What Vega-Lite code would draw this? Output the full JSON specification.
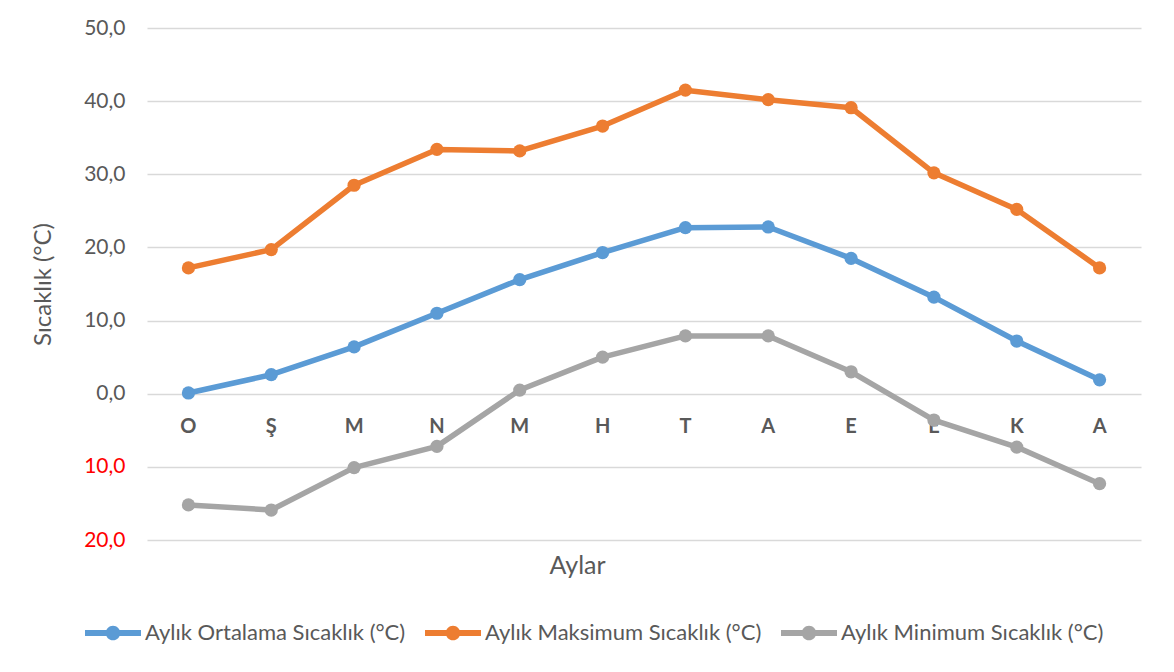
{
  "$schema": "https://vega.github.io/schema/vega-lite/v6.json",
  "width": 994,
  "height": 512,
  "autosize": {"type": "none"},
  "padding": {"left": 147, "top": 28, "right": 33, "bottom": 132},
  "background": "white",
  "config": {
    "font": "Lato",
    "view": {"stroke": null},
    "axis": {"labelFont": "Lato", "titleFont": "Lato", "labelColor": "#595959", "titleColor": "#595959", "titleFontWeight": "normal"}
  },
  "datasets": {
    "sicaklik": [
      {"sira": 1, "ay": "O", "seri": "Aylık Ortalama Sıcaklık (°C)", "deger": 0.1},
      {"sira": 2, "ay": "Ş", "seri": "Aylık Ortalama Sıcaklık (°C)", "deger": 2.6},
      {"sira": 3, "ay": "M", "seri": "Aylık Ortalama Sıcaklık (°C)", "deger": 6.4},
      {"sira": 4, "ay": "N", "seri": "Aylık Ortalama Sıcaklık (°C)", "deger": 11.0},
      {"sira": 5, "ay": "M", "seri": "Aylık Ortalama Sıcaklık (°C)", "deger": 15.6},
      {"sira": 6, "ay": "H", "seri": "Aylık Ortalama Sıcaklık (°C)", "deger": 19.3},
      {"sira": 7, "ay": "T", "seri": "Aylık Ortalama Sıcaklık (°C)", "deger": 22.7},
      {"sira": 8, "ay": "A", "seri": "Aylık Ortalama Sıcaklık (°C)", "deger": 22.8},
      {"sira": 9, "ay": "E", "seri": "Aylık Ortalama Sıcaklık (°C)", "deger": 18.5},
      {"sira": 10, "ay": "E", "seri": "Aylık Ortalama Sıcaklık (°C)", "deger": 13.2},
      {"sira": 11, "ay": "K", "seri": "Aylık Ortalama Sıcaklık (°C)", "deger": 7.2},
      {"sira": 12, "ay": "A", "seri": "Aylık Ortalama Sıcaklık (°C)", "deger": 1.9},
      {"sira": 1, "ay": "O", "seri": "Aylık Maksimum Sıcaklık (°C)", "deger": 17.2},
      {"sira": 2, "ay": "Ş", "seri": "Aylık Maksimum Sıcaklık (°C)", "deger": 19.7},
      {"sira": 3, "ay": "M", "seri": "Aylık Maksimum Sıcaklık (°C)", "deger": 28.5},
      {"sira": 4, "ay": "N", "seri": "Aylık Maksimum Sıcaklık (°C)", "deger": 33.4},
      {"sira": 5, "ay": "M", "seri": "Aylık Maksimum Sıcaklık (°C)", "deger": 33.2},
      {"sira": 6, "ay": "H", "seri": "Aylık Maksimum Sıcaklık (°C)", "deger": 36.6},
      {"sira": 7, "ay": "T", "seri": "Aylık Maksimum Sıcaklık (°C)", "deger": 41.5},
      {"sira": 8, "ay": "A", "seri": "Aylık Maksimum Sıcaklık (°C)", "deger": 40.2},
      {"sira": 9, "ay": "E", "seri": "Aylık Maksimum Sıcaklık (°C)", "deger": 39.1},
      {"sira": 10, "ay": "E", "seri": "Aylık Maksimum Sıcaklık (°C)", "deger": 30.2},
      {"sira": 11, "ay": "K", "seri": "Aylık Maksimum Sıcaklık (°C)", "deger": 25.2},
      {"sira": 12, "ay": "A", "seri": "Aylık Maksimum Sıcaklık (°C)", "deger": 17.2},
      {"sira": 1, "ay": "O", "seri": "Aylık Minimum Sıcaklık (°C)", "deger": -15.2},
      {"sira": 2, "ay": "Ş", "seri": "Aylık Minimum Sıcaklık (°C)", "deger": -15.9},
      {"sira": 3, "ay": "M", "seri": "Aylık Minimum Sıcaklık (°C)", "deger": -10.1},
      {"sira": 4, "ay": "N", "seri": "Aylık Minimum Sıcaklık (°C)", "deger": -7.2},
      {"sira": 5, "ay": "M", "seri": "Aylık Minimum Sıcaklık (°C)", "deger": 0.5},
      {"sira": 6, "ay": "H", "seri": "Aylık Minimum Sıcaklık (°C)", "deger": 5.0},
      {"sira": 7, "ay": "T", "seri": "Aylık Minimum Sıcaklık (°C)", "deger": 7.9},
      {"sira": 8, "ay": "A", "seri": "Aylık Minimum Sıcaklık (°C)", "deger": 7.9},
      {"sira": 9, "ay": "E", "seri": "Aylık Minimum Sıcaklık (°C)", "deger": 3.0},
      {"sira": 10, "ay": "E", "seri": "Aylık Minimum Sıcaklık (°C)", "deger": -3.6},
      {"sira": 11, "ay": "K", "seri": "Aylık Minimum Sıcaklık (°C)", "deger": -7.3},
      {"sira": 12, "ay": "A", "seri": "Aylık Minimum Sıcaklık (°C)", "deger": -12.3}
    ]
  },
  "data": {"name": "sicaklik"},
  "layer": [
    {
      "transform": [{"filter": "datum.seri === 'Aylık Ortalama Sıcaklık (°C)'"}],
      "mark": {"type": "text", "fontWeight": "bold", "fontSize": 20, "fill": "#595959", "font": "Lato", "baseline": "middle", "align": "center", "dy": 33},
      "encoding": {
        "x": {"field": "sira", "type": "ordinal"},
        "y": {"datum": 0},
        "text": {"field": "ay"}
      }
    },
    {
      "mark": {"type": "line", "strokeWidth": 5.5, "strokeJoin": "round", "strokeCap": "round"},
      "encoding": {
        "x": {
          "field": "sira",
          "type": "ordinal",
          "scale": {"type": "point", "padding": 0.5},
          "axis": {
            "title": "Aylar",
            "labels": false,
            "ticks": false,
            "domain": false,
            "grid": false,
            "titleFontSize": 25,
            "titleX": 430,
            "titleY": 33,
            "titleBaseline": "alphabetic",
            "titleAnchor": "middle"
          }
        },
        "y": {
          "field": "deger",
          "type": "quantitative",
          "scale": {"domain": [-20, 50], "nice": false, "zero": false},
          "axis": {
            "title": "Sıcaklık (°C)",
            "titleFontSize": 24,
            "titlePadding": 28,
            "values": [-20, -10, 0, 10, 20, 30, 40, 50],
            "labelExpr": "replace(format(abs(datum.value), '.1f'), '.', ',')",
            "labelColor": {"condition": {"test": "datum.value < 0", "value": "#FF0000"}, "value": "#595959"},
            "labelFontSize": 21,
            "labelPadding": 22,
            "ticks": false,
            "tickSize": 0,
            "domain": false,
            "grid": true,
            "gridColor": "#D9D9D9",
            "gridWidth": 1.3
          }
        },
        "color": {
          "field": "seri",
          "type": "nominal",
          "scale": {
            "domain": ["Aylık Ortalama Sıcaklık (°C)", "Aylık Maksimum Sıcaklık (°C)", "Aylık Minimum Sıcaklık (°C)"],
            "range": ["#5B9BD5", "#ED7D31", "#A5A5A5"]
          },
          "legend": {
            "title": null,
            "orient": "none",
            "direction": "horizontal",
            "legendX": -62,
            "legendY": 577,
            "symbolType": "M-1,-0.11L1,-0.11L1,0.11L-1,0.11Z M0.26,0A0.26,0.26 0 1,1 -0.26,0A0.26,0.26 0 1,1 0.26,0Z",
            "symbolSize": 3136,
            "symbolStrokeWidth": 0,
            "labelFont": "Lato",
            "labelFontSize": 22,
            "labelColor": "#595959",
            "labelLimit": 0,
            "labelOffset": 4,
            "columnPadding": 19,
            "encode": {
              "symbols": {
                "update": {
                  "fill": {"scale": "color", "field": "value"},
                  "fillOpacity": {"value": 1},
                  "strokeWidth": {"value": 0}
                }
              }
            }
          }
        }
      }
    },
    {
      "mark": {"type": "point", "filled": true, "opacity": 1, "size": 175, "shape": "circle"},
      "encoding": {
        "x": {"field": "sira", "type": "ordinal"},
        "y": {"field": "deger", "type": "quantitative"},
        "color": {"field": "seri", "type": "nominal", "legend": null}
      }
    }
  ]
}
